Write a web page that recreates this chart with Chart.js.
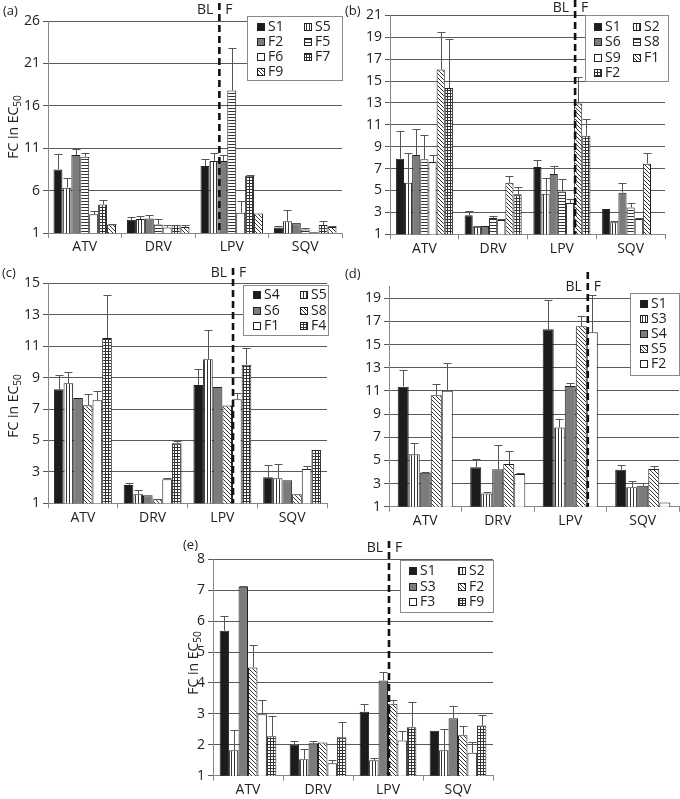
<!DOCTYPE html>
<html><head><meta charset="utf-8">
<script src="https://cdn.jsdelivr.net/npm/chart.js@4.4.0/dist/chart.umd.min.js"></script>
<style>
html,body{margin:0;padding:0;background:#fff;}
#wrap{position:relative;width:680px;height:799px;overflow:hidden;font-family:'Open Sans',sans-serif;color:#222;}
canvas{position:absolute;left:0;top:0;}
.ytitle{position:absolute;font-size:14px;line-height:16px;transform:translate(-50%,-50%) rotate(-90deg);white-space:nowrap;}
.ytitle sub{font-size:10px;vertical-align:-3px;line-height:0;}
.plabel{position:absolute;font-size:13px;line-height:16px;}
</style></head><body>
<div id="wrap">
<canvas id="ca" width="680" height="799"></canvas>
<canvas id="cb" width="680" height="799"></canvas>
<canvas id="cc" width="680" height="799"></canvas>
<canvas id="cd" width="680" height="799"></canvas>
<canvas id="ce" width="680" height="799"></canvas>
<div class="plabel" style="left:3px;top:2px">(a)</div>
<div class="plabel" style="left:345px;top:2px">(b)</div>
<div class="plabel" style="left:2px;top:264px">(c)</div>
<div class="plabel" style="left:345px;top:265px">(d)</div>
<div class="plabel" style="left:183px;top:536px">(e)</div>
<div class="ytitle" style="left:13px;top:127px">FC in EC<sub>50</sub></div>
<div class="ytitle" style="left:13px;top:406px">FC in EC<sub>50</sub></div>
<div class="ytitle" style="left:193px;top:663px">FC in EC<sub>50</sub></div>
</div>
<script>
const categories = ['ATV', 'DRV', 'LPV', 'SQV'];

// Panel (a)
const aSeries = ['S1', 'S5', 'F2', 'F5', 'F6', 'F7', 'F9'];
const aTicks = [1, 6, 11, 16, 21, 26];
const aValues = [
  [8.5, 2.55, 8.9, 1.65],
  [6.35, 2.65, 9.5, 2.4],
  [10.2, 2.7, 9.5, 2.15],
  [10.0, 2.0, 17.8, 1.4],
  [3.2, 1.65, 3.4, 1.1],
  [4.35, 1.95, 7.75, 1.95],
  [2.0, 1.7, 3.3, 1.7]
];
const aErrors = [
  [1.8, 0.3, 0.8, 0.2],
  [1.15, 0.3, 0.95, 1.35],
  [0.7, 0.4, 0.7, 0.05],
  [0.45, 0.6, 5.0, 0.2],
  [0.4, 0.25, 1.35, 0],
  [0.5, 0.05, 0.1, 0.45],
  [0.05, 0.3, 0, 0.1]
];

// Panel (b)
const bSeries = ['S1', 'S2', 'S6', 'S8', 'S9', 'F1', 'F2'];
const bTicks = [1, 3, 5, 7, 9, 11, 13, 15, 17, 19, 21];
const bValues = [
  [7.9, 2.75, 7.15, 3.3],
  [5.7, 1.7, 4.7, 2.1],
  [8.25, 1.75, 6.5, 4.8],
  [7.85, 2.5, 4.9, 3.45],
  [7.6, 2.3, 3.85, 2.4],
  [16.05, 5.7, 12.95, 7.45],
  [14.35, 4.65, 10.0, null]
];
const bErrors = [
  [2.55, 0.35, 0.6, 0],
  [2.7, 0.1, 1.45, 0.1],
  [2.4, 0, 0.7, 0.85],
  [2.25, 0.2, 1.15, 0.45],
  [0.6, 0.1, 0.35, 0.06],
  [3.4, 0.65, 2.4, 0.95],
  [4.5, 0.7, 1.5, 0]
];

// Panel (c)
const cSeries = ['S4', 'S5', 'S6', 'S8', 'F1', 'F4'];
const cTicks = [1, 3, 5, 7, 9, 11, 13, 15];
const cValues = [
  [8.25, 2.17, 8.53, 2.65],
  [8.64, 1.57, 10.16, 2.6],
  [7.7, 1.51, 8.4, 2.46],
  [7.24, 1.25, 7.22, 1.57],
  [7.55, 2.53, 7.62, 3.18],
  [11.52, 4.82, 9.82, 4.39]
];
const cErrors = [
  [0.94, 0.15, 1.0, 0.79],
  [0.74, 0.3, 1.84, 0.89],
  [0, 0, 0, 0],
  [0.7, 0.05, 0, 0],
  [0.62, 0.06, 0.42, 0.2],
  [2.72, 0.13, 1.04, 0]
];

// Panel (d)
const dSeries = ['S1', 'S3', 'S4', 'S5', 'F2'];
const dTicks = [1, 3, 5, 7, 9, 11, 13, 15, 17, 19];
const dAxisMax = 20;
const dValues = [
  [11.37, 4.4, 16.32, 4.2],
  [5.52, 2.15, 7.83, 2.67],
  [3.94, 4.23, 11.43, 2.81],
  [10.62, 4.69, 16.58, 4.25],
  [11.02, 3.82, 16.06, 1.37]
];
const dErrors = [
  [1.41, 0.69, 2.51, 0.4],
  [1.01, 0.15, 0.77, 0.55],
  [0.06, 2.07, 0.28, 0.21],
  [0.95, 1.12, 0.92, 0.23],
  [2.36, 0.12, 3.2, 0]
];

// Panel (e)
const eSeries = ['S1', 'S2', 'S3', 'F2', 'F3', 'F9'];
const eTicks = [1, 2, 3, 4, 5, 6, 7, 8];
const eValues = [
  [5.69, 2.0, 3.07, 2.45],
  [1.82, 1.53, 1.5, 1.82],
  [7.11, 2.05, 4.08, 2.86],
  [4.5, 2.07, 3.33, 2.31],
  [2.99, 1.4, 2.14, 1.74],
  [2.28, 2.24, 2.57, 2.62]
];
const eErrors = [
  [0.46, 0.13, 0.26, 0],
  [0.67, 0.32, 0.06, 0.7],
  [0.03, 0.08, 0.26, 0.38],
  [0.73, 0, 0.13, 0.3],
  [0.45, 0.11, 0.29, 0.36],
  [0.64, 0.51, 0.82, 0.34]
];

// ---- styling ----
const FONT = "'Open Sans', sans-serif";
const TEXT = '#222';
function makePattern(kind) {
  const s = kind === 'diag' ? 4 : 3;
  const c = document.createElement('canvas');
  c.width = s; c.height = s;
  const g = c.getContext('2d');
  g.fillStyle = '#fff'; g.fillRect(0, 0, s, s);
  g.fillStyle = '#333';
  if (kind === 'vstripe') g.fillRect(0, 0, 1, s);
  if (kind === 'hstripe') g.fillRect(0, 0, s, 1);
  if (kind === 'grid') { g.fillRect(0, 0, 1, s); g.fillRect(0, 0, s, 1); }
  if (kind === 'diag') { for (let i = 0; i < s; i++) g.fillRect(i, i, 1, 1); }
  return g.createPattern(c, 'repeat');
}
const FILL = {
  black: '#1c1c1c', gray: '#7c7c7c', white: '#ffffff',
  vstripe: makePattern('vstripe'), hstripe: makePattern('hstripe'),
  diag: makePattern('diag'), grid: makePattern('grid')
};

const errorBars = {
  id: 'errorBars',
  afterDatasetsDraw(chart) {
    const ctx = chart.ctx, y = chart.scales.y;
    ctx.save();
    ctx.strokeStyle = '#555'; ctx.lineWidth = 1;
    chart.data.datasets.forEach((ds, i) => {
      const meta = chart.getDatasetMeta(i);
      meta.data.forEach((bar, j) => {
        const v = ds.data[j], e = ds.errors[j];
        if (v == null || !e) return;
        const yt = Math.round(y.getPixelForValue(v + e)) + 0.5;
        const x = Math.round(bar.x) + 0.5;
        ctx.beginPath();
        ctx.moveTo(x, bar.y); ctx.lineTo(x, yt);
        ctx.moveTo(x - 4, yt); ctx.lineTo(x + 4, yt);
        ctx.stroke();
      });
    });
    ctx.restore();
  }
};

const splitLine = {
  id: 'splitLine',
  afterDatasetsDraw(chart, args, o) {
    const ds = chart.data.datasets;
    const k = ds.findIndex(d => d.label.startsWith('F'));
    const cat = categories.indexOf('LPV');
    const b1 = chart.getDatasetMeta(k - 1).data[cat];
    const b2 = chart.getDatasetMeta(k).data[cat];
    const x = ((b1.x + b1.width / 2) + (b2.x - b2.width / 2)) / 2 + 1;
    const ctx = chart.ctx;
    ctx.save();
    ctx.strokeStyle = '#111'; ctx.lineWidth = 2.6; ctx.setLineDash([7, 4]);
    ctx.beginPath(); ctx.moveTo(x, o.top); ctx.lineTo(x, chart.chartArea.bottom); ctx.stroke();
    ctx.setLineDash([]);
    ctx.fillStyle = TEXT; ctx.font = '14px ' + FONT; ctx.textBaseline = 'middle';
    ctx.textAlign = 'right'; ctx.fillText('BL', x - 6, o.textY);
    ctx.textAlign = 'left'; ctx.fillText('F', x + 6, o.textY);
    ctx.restore();
  }
};

const legendBox = {
  id: 'legendBox',
  afterDraw(chart, args, L) {
    const ctx = chart.ctx;
    ctx.save();
    ctx.fillStyle = '#fff'; ctx.fillRect(L.x, L.y, L.w, L.h);
    ctx.strokeStyle = '#8a8a8a'; ctx.lineWidth = 1;
    ctx.strokeRect(Math.round(L.x) + 0.5, Math.round(L.y) + 0.5, Math.round(L.w) - 1, Math.round(L.h) - 1);
    const n = L.cols.length;
    chart.data.datasets.forEach((ds, i) => {
      const col = i % n, row = Math.floor(i / n);
      const sx = Math.round(L.x + L.cols[col]);
      const sy = Math.round(L.y + L.y0 + row * L.dy);
      ctx.fillStyle = ds.backgroundColor;
      ctx.fillRect(sx, sy - 4, 8, 8);
      ctx.strokeStyle = '#222';
      ctx.strokeRect(sx + 0.5, sy - 3.5, 7, 7);
      ctx.fillStyle = TEXT; ctx.font = '14px ' + FONT;
      ctx.textBaseline = 'middle'; ctx.textAlign = 'left';
      ctx.fillText(ds.label, sx + 11, sy + 0.5);
    });
    ctx.restore();
  }
};

const panels = [
  { id: 'ca', series: aSeries, values: aValues, errors: aErrors, ticks: aTicks, max: 26,
    fills: ['black', 'vstripe', 'gray', 'hstripe', 'white', 'grid', 'diag'],
    area: { left: 48, top: 21, right: 342, bottom: 233 }, catPct: 0.85,
    legend: { x: 247, y: 16, w: 96, h: 65, cols: [9.7, 57], y0: 10.5, dy: 15.2 },
    split: { top: 3, textY: 10 } },
  { id: 'cb', series: bSeries, values: bValues, errors: bErrors, ticks: bTicks, max: 21,
    fills: ['black', 'vstripe', 'gray', 'hstripe', 'white', 'diag', 'grid'],
    area: { left: 390, top: 15.3, right: 665, bottom: 234.3 }, catPct: 0.83,
    legend: { x: 585, y: 15, w: 84, h: 67, cols: [9.3, 48], y0: 11.7, dy: 15.5 },
    split: { top: 0, textY: 8.5 } },
  { id: 'cc', series: cSeries, values: cValues, errors: cErrors, ticks: cTicks, max: 15,
    fills: ['black', 'vstripe', 'gray', 'diag', 'white', 'grid'],
    area: { left: 48, top: 283.3, right: 327, bottom: 503.3 }, catPct: 0.83,
    legend: { x: 243, y: 285, w: 86, h: 51, cols: [10, 57.4], y0: 10, dy: 15.5 },
    split: { top: 268, textY: 273 } },
  { id: 'cd', series: dSeries, values: dValues, errors: dErrors, ticks: dTicks, max: dAxisMax,
    fills: ['black', 'vstripe', 'gray', 'diag', 'white'],
    area: { left: 389, top: 286.7, right: 679, bottom: 506.7 }, catPct: 0.76,
    legend: { x: 630, y: 293, w: 50, h: 83, cols: [10], y0: 10.7, dy: 15.1 },
    split: { top: 272, textY: 287 } },
  { id: 'ce', series: eSeries, values: eValues, errors: eErrors, ticks: eTicks, max: 8,
    fills: ['black', 'vstripe', 'gray', 'diag', 'white', 'grid'],
    area: { left: 213, top: 559.3, right: 493, bottom: 775.7 }, catPct: 0.81,
    legend: { x: 400, y: 560, w: 94, h: 53, cols: [9.3, 58.3], y0: 11, dy: 15.6 },
    split: { top: 541, textY: 548 } }
];

const W = 680, H = 799, YW = 40, XH = 26;
panels.forEach(p => {
  const datasets = p.series.map((lab, i) => ({
    label: lab, data: p.values[i], errors: p.errors[i],
    backgroundColor: FILL[p.fills[i]], borderColor: '#222', borderWidth: 1,
    categoryPercentage: p.catPct, barPercentage: 1.0
  }));
  new Chart(document.getElementById(p.id).getContext('2d'), {
    type: 'bar',
    data: { labels: categories, datasets },
    options: {
      responsive: false, animation: false, devicePixelRatio: 1,
      events: [],
      layout: { padding: { left: p.area.left - YW, top: p.area.top, right: W - p.area.right, bottom: H - p.area.bottom - XH } },
      plugins: {
        legend: { display: false }, tooltip: { enabled: false },
        legendBox: p.legend, splitLine: p.split
      },
      scales: {
        x: {
          offset: true,
          grid: { display: true, offset: true, drawOnChartArea: false, drawTicks: true, tickLength: 5, color: '#888' },
          border: { color: '#888' },
          ticks: { font: { family: FONT, size: 14 }, color: TEXT, padding: 1, maxRotation: 0 },
          afterFit: s => { s.height = XH; }
        },
        y: {
          min: p.ticks[0], max: p.max,
          afterBuildTicks: s => { s.ticks = p.ticks.map(v => ({ value: v })); },
          grid: { color: '#5a5a5a', tickLength: 5 },
          border: { color: '#888' },
          ticks: { font: { family: FONT, size: 14 }, color: TEXT, padding: 3 },
          afterFit: s => { s.width = YW; }
        }
      }
    },
    plugins: [errorBars, splitLine, legendBox]
  });
});
</script>
</body></html>
